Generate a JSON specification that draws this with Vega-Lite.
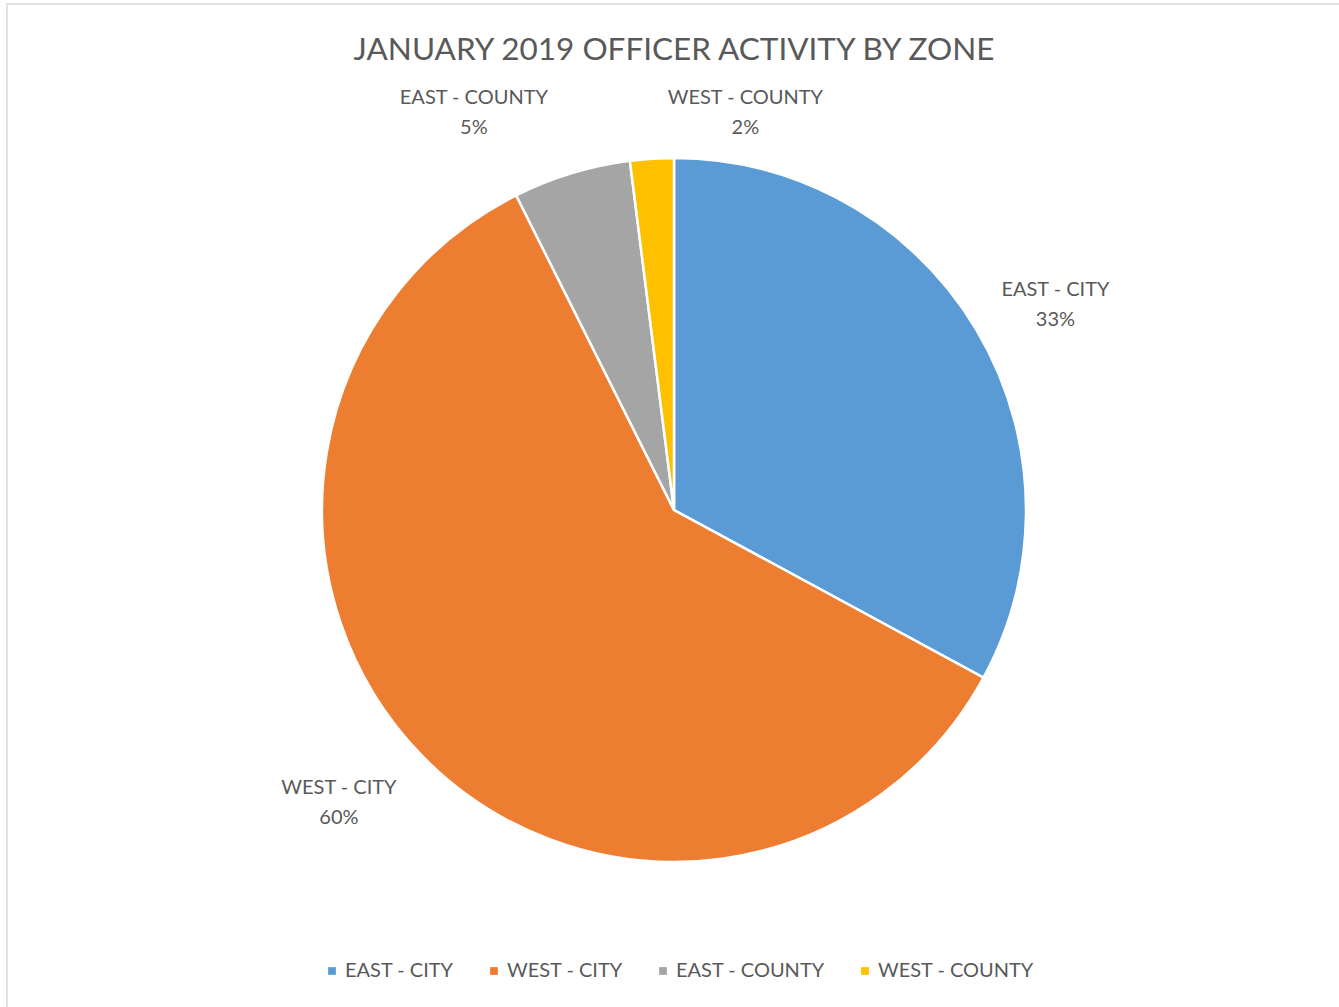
{
  "$schema": "https://vega.github.io/schema/vega-lite/v6.json",
  "width": 1334,
  "height": 1012,
  "autosize": {"type": "none"},
  "padding": {"left": 7, "top": 4, "right": 0, "bottom": 0},
  "background": "white",
  "config": {
    "view": {"stroke": null},
    "font": "Lato"
  },
  "title": {
    "text": "JANUARY 2019 OFFICER ACTIVITY BY ZONE",
    "font": "Lato",
    "fontSize": 31.5,
    "fontWeight": "normal",
    "color": "#595959",
    "anchor": "middle",
    "offset": -63
  },
  "layer": [
    {
      "data": {"values": [{"frame": 1}]},
      "mark": {"type": "rect", "fill": null, "stroke": "#d9d9d9", "strokeWidth": 1.5},
      "encoding": {}
    },
    {
      "data": {
        "values": [
          {"zone": "EAST - CITY", "value": 32.9, "order": 1},
          {"zone": "WEST - CITY", "value": 59.7, "order": 2},
          {"zone": "EAST - COUNTY", "value": 5.4, "order": 3},
          {"zone": "WEST - COUNTY", "value": 2.0, "order": 4}
        ]
      },
      "transform": [
        {"joinaggregate": [{"op": "sum", "field": "value", "as": "total"}]},
        {"stack": "value", "groupby": [], "sort": [{"field": "order", "order": "ascending"}], "as": ["v0", "v1"]},
        {"calculate": "(datum.v0 + datum.v1) / 2", "as": "mid"},
        {"calculate": "datum.zone + '\\n' + format(datum.value / datum.total, '.0%')", "as": "label"}
      ],
      "layer": [
        {
          "mark": {"type": "arc", "outerRadius": 352, "stroke": "white", "strokeWidth": 2.5},
          "encoding": {
            "theta": {"field": "v0", "type": "quantitative", "stack": null, "scale": {"domain": [0, 100]}},
            "theta2": {"field": "v1"},
            "color": {
              "field": "zone",
              "type": "nominal",
              "scale": {
                "domain": ["EAST - CITY", "WEST - CITY", "EAST - COUNTY", "WEST - COUNTY"],
                "range": ["#5B9BD5", "#ED7D31", "#A5A5A5", "#FFC000"]
              },
              "legend": {
                "title": null,
                "orient": "none",
                "direction": "horizontal",
                "legendX": 315,
                "legendY": 957,
                "symbolType": "square",
                "symbolSize": 60,
                "symbolStrokeWidth": 0,
                "labelFont": "Lato",
                "labelFontSize": 20,
                "labelColor": "#595959",
                "labelOffset": 3,
                "columnPadding": 30,
                "labelLimit": 300
              }
            }
          }
        },
        {
          "transform": [{"filter": "datum.order == 1"}],
          "mark": {"type": "text", "radius": 434, "thetaOffset": 0.04, "dy": -13, "font": "Lato", "fontSize": 20, "color": "#595959", "lineBreak": "\n", "lineHeight": 30, "align": "center", "baseline": "middle"},
          "encoding": {
            "theta": {"field": "mid", "type": "quantitative", "stack": null},
            "text": {"field": "label", "type": "nominal"}
          }
        },
        {
          "transform": [{"filter": "datum.order == 2"}],
          "mark": {"type": "text", "radius": 444, "thetaOffset": 0.054, "dy": -13, "font": "Lato", "fontSize": 20, "color": "#595959", "lineBreak": "\n", "lineHeight": 30, "align": "center", "baseline": "middle"},
          "encoding": {
            "theta": {"field": "mid", "type": "quantitative", "stack": null},
            "text": {"field": "label", "type": "nominal"}
          }
        },
        {
          "transform": [{"filter": "datum.order == 3"}],
          "mark": {"type": "text", "radius": 446, "thetaOffset": -0.17, "dy": -13, "font": "Lato", "fontSize": 20, "color": "#595959", "lineBreak": "\n", "lineHeight": 30, "align": "center", "baseline": "middle"},
          "encoding": {
            "theta": {"field": "mid", "type": "quantitative", "stack": null},
            "text": {"field": "label", "type": "nominal"}
          }
        },
        {
          "transform": [{"filter": "datum.order == 4"}],
          "mark": {"type": "text", "radius": 405, "thetaOffset": 0.24, "dy": -13, "font": "Lato", "fontSize": 20, "color": "#595959", "lineBreak": "\n", "lineHeight": 30, "align": "center", "baseline": "middle"},
          "encoding": {
            "theta": {"field": "mid", "type": "quantitative", "stack": null},
            "text": {"field": "label", "type": "nominal"}
          }
        }
      ]
    }
  ]
}
